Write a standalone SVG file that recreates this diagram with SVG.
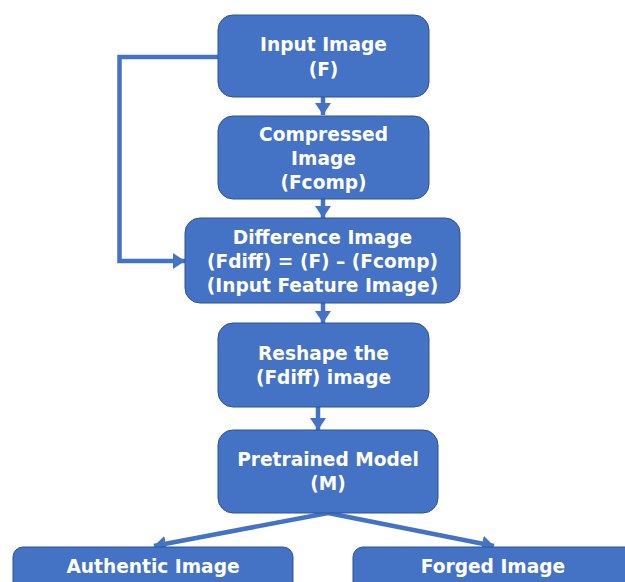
<svg xmlns="http://www.w3.org/2000/svg" width="625" height="582" viewBox="0 0 625 582">
<style>
.box{fill:#4472C4;stroke:#2F528F;stroke-width:1}
.t{fill:#fff;font-family:"DejaVu Sans","Liberation Sans",sans-serif;font-weight:bold;font-size:18.6px;text-anchor:middle;dominant-baseline:central}
.c{fill:none;stroke:#4472C4;stroke-width:4.5;marker-end:url(#ah)}
</style>
<defs>
<marker id="ah" markerUnits="userSpaceOnUse" markerWidth="18" markerHeight="16" refX="12" refY="8" orient="auto">
<path d="M0,0 L12,8 L0,16 Z" fill="#4472C4"/>
</marker>
</defs>
<rect width="625" height="582" fill="#fff"/>
<g id="connectors">
<path class="c" d="M323,97 V115"/>
<path class="c" d="M323,199 V218"/>
<path class="c" d="M323,303 V323"/>
<path class="c" d="M318,407 V430"/>
<path class="c" d="M218,57 H119.5 V261 H185"/>
<path class="c" d="M328,513 L154,546"/>
<path class="c" d="M328,513 L494,546"/>
</g>
<g id="input">
<rect class="box" x="218" y="15" width="211" height="82" rx="15"/>
<text class="t" x="323.5" y="44">Input Image</text>
<text class="t" x="323.5" y="69">(F)</text>
</g>
<g id="compressed">
<rect class="box" x="218" y="116" width="211" height="83" rx="15"/>
<text class="t" x="323.5" y="134">Compressed</text>
<text class="t" x="323.5" y="158">Image</text>
<text class="t" x="323.5" y="182">(Fcomp)</text>
</g>
<g id="difference">
<rect class="box" x="185" y="218" width="275" height="85" rx="15"/>
<text class="t" x="322.5" y="237">Difference Image</text>
<text class="t" x="322.5" y="261">(Fdiff) = (F) – (Fcomp)</text>
<text class="t" x="322.5" y="285">(Input Feature Image)</text>
</g>
<g id="reshape">
<rect class="box" x="218" y="323" width="211" height="84" rx="15"/>
<text class="t" x="323.5" y="353">Reshape the</text>
<text class="t" x="323.5" y="377">(Fdiff) image</text>
</g>
<g id="pretrained">
<rect class="box" x="218" y="430" width="220" height="83" rx="15"/>
<text class="t" x="328" y="459">Pretrained Model</text>
<text class="t" x="328" y="483">(M)</text>
</g>
<g id="authentic">
<rect class="box" x="13" y="547" width="280" height="50" rx="10"/>
<text class="t" x="153" y="566">Authentic Image</text>
</g>
<g id="forged">
<rect class="box" x="353" y="547" width="290" height="50" rx="10"/>
<text class="t" x="493" y="566">Forged Image</text>
</g>
</svg>
